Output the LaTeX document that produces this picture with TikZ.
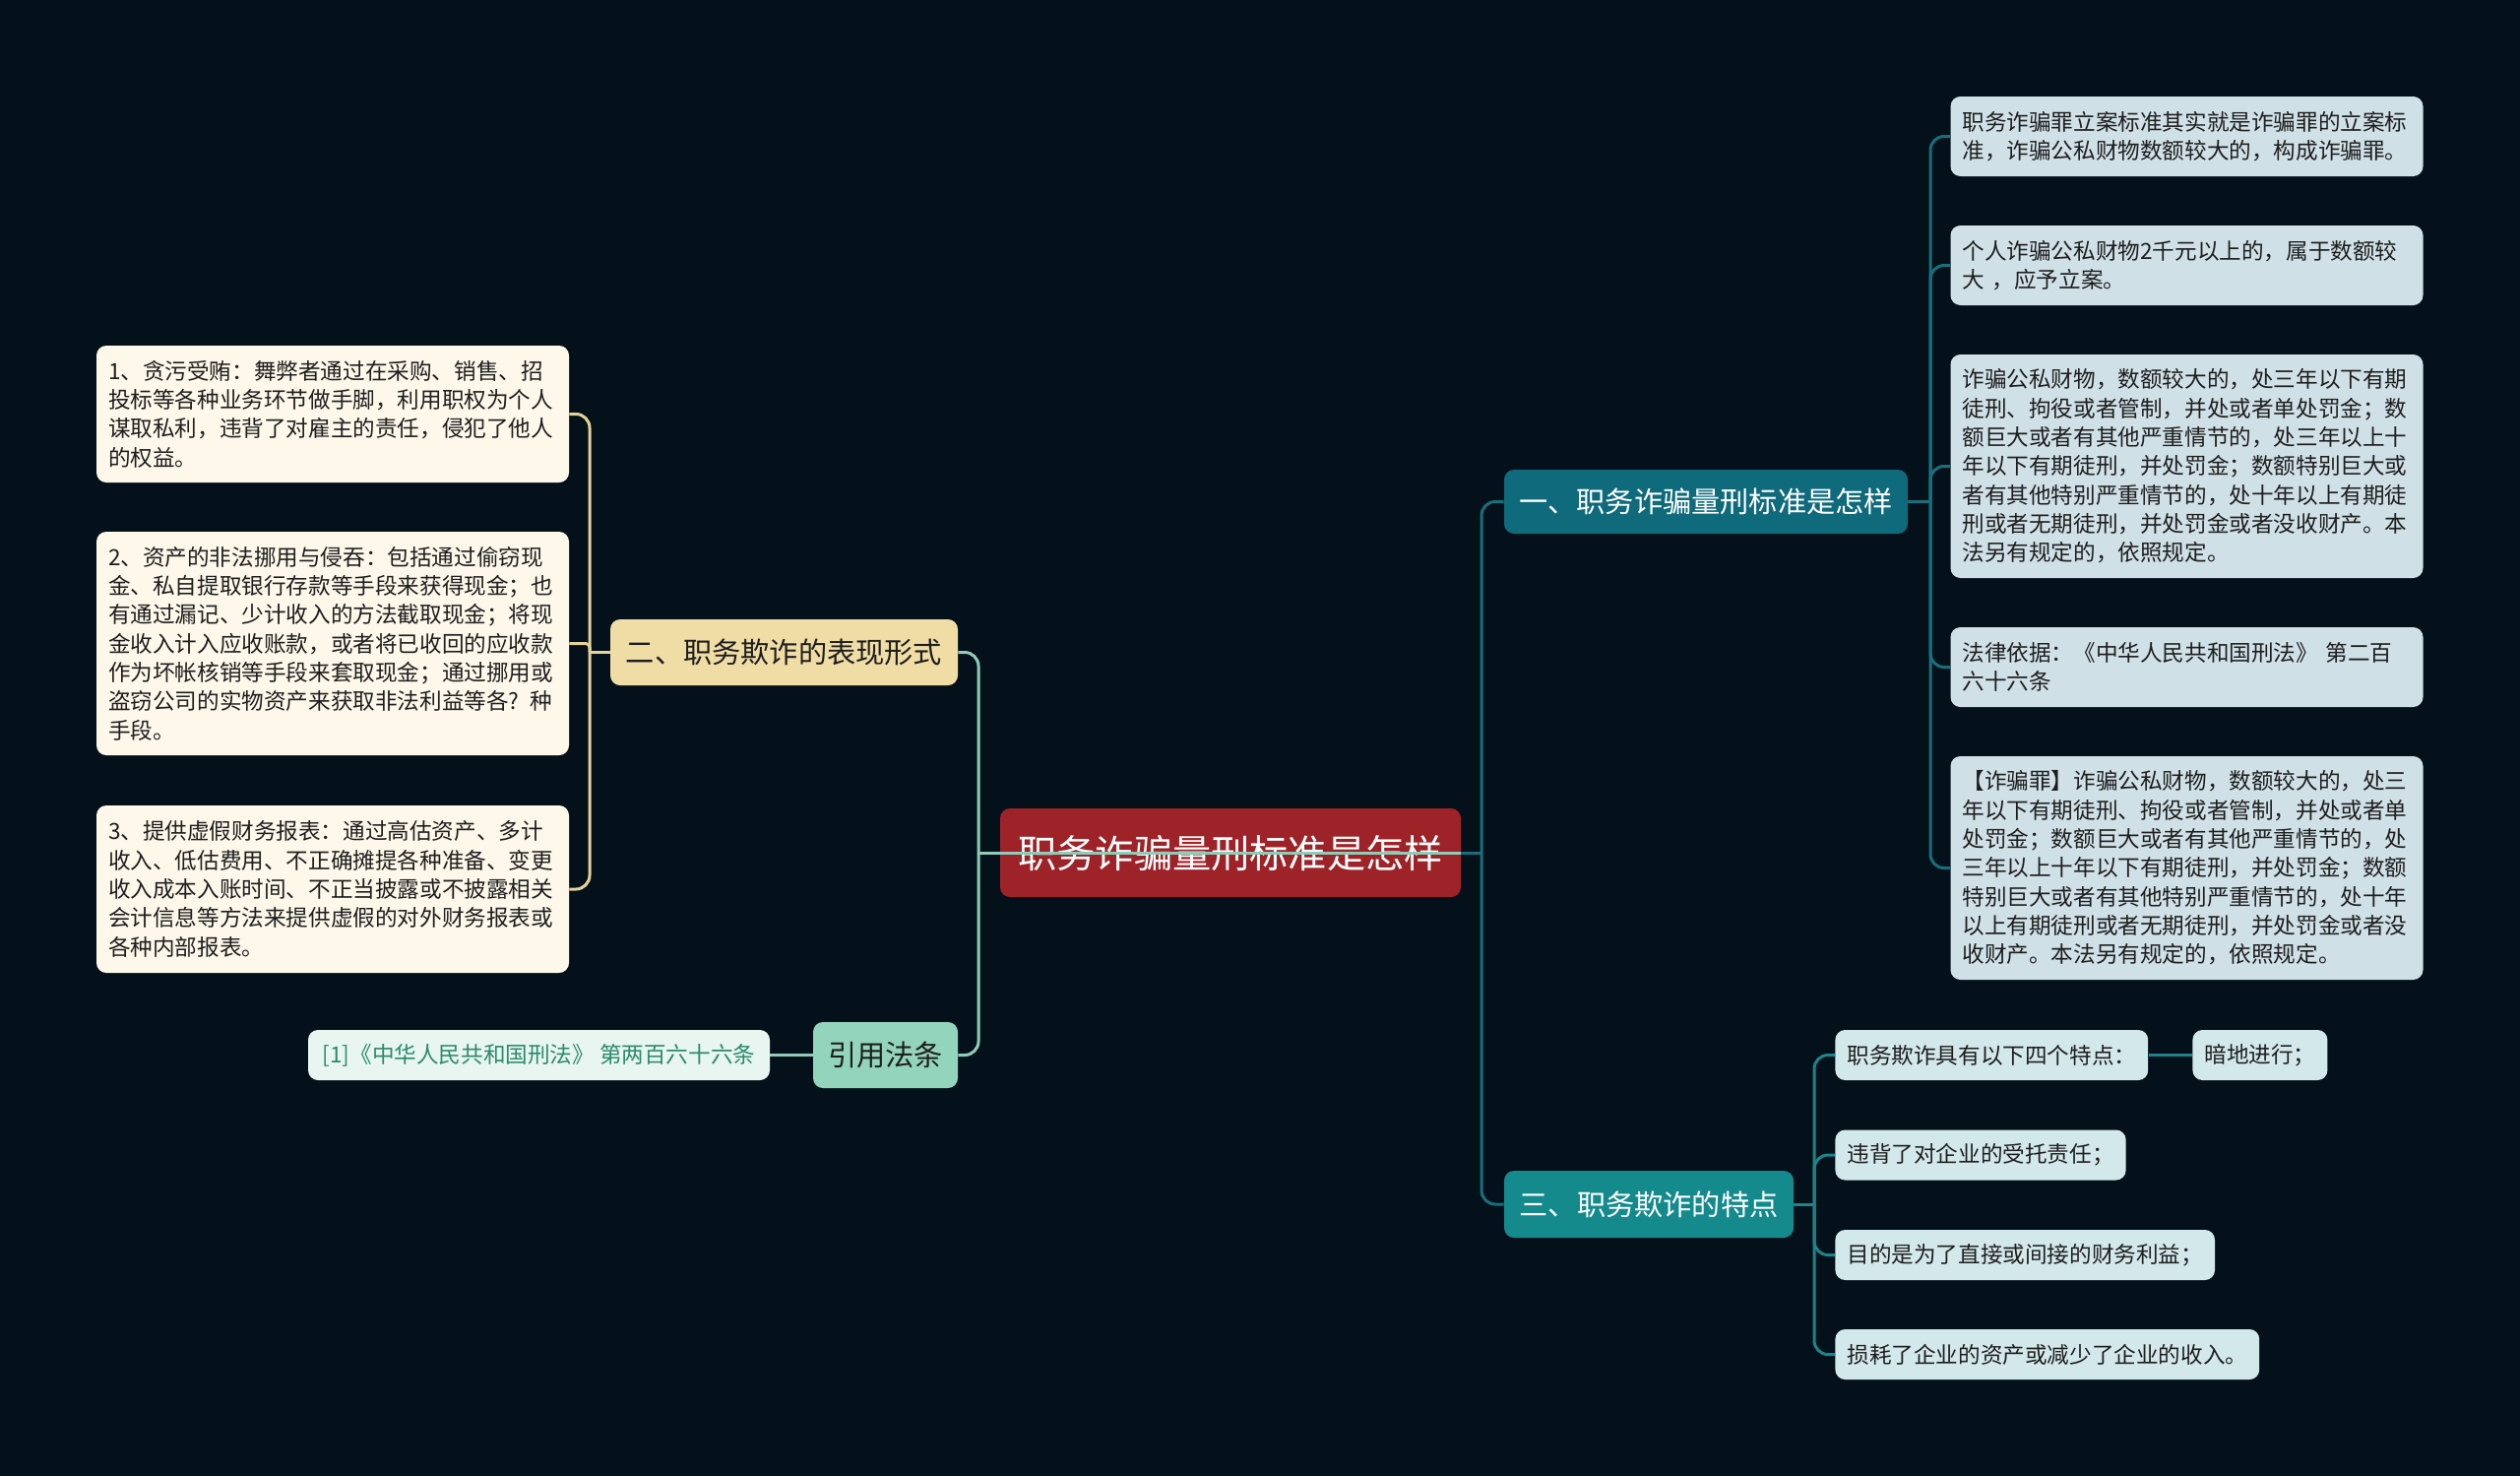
\documentclass[tikz,border=0pt]{standalone}
\usepackage{fontspec}
\newfontfamily\cjk{Noto Sans CJK SC}
\definecolor{bgc}{HTML}{04111A}
\definecolor{redc}{HTML}{9E2329}
\definecolor{teala}{HTML}{0F6A7C}
\definecolor{tealb}{HTML}{148A8C}
\definecolor{linea}{HTML}{176F7C}
\definecolor{lineb}{HTML}{1B8589}
\definecolor{beigec}{HTML}{F0DDA6}
\definecolor{beigeline}{HTML}{E5D29A}
\definecolor{creamc}{HTML}{FDF8EA}
\definecolor{mintc}{HTML}{93D4BC}
\definecolor{mintline}{HTML}{8CCDB8}
\definecolor{citefill}{HTML}{E8F5F0}
\definecolor{citetext}{HTML}{2B8A6C}
\definecolor{rleafc}{HTML}{CFE0E6}
\definecolor{sleafc}{HTML}{D3E8EA}
\definecolor{darktext}{HTML}{1E1E1E}
\tikzset{
  box/.style={rounded corners=5pt, inner sep=0pt, anchor=center},
  leaffont/.style={font={\cjk\fontsize{11.3pt}{14.65pt}\selectfont}},
  midfont/.style={font={\cjk\fontsize{14.6pt}{17pt}\selectfont}},
  bigleaf/.style={box, leaffont, text=darktext, align=left, text width=228pt, minimum width=240pt},
  rleaf/.style={bigleaf, fill=rleafc},
  lleaf/.style={bigleaf, fill=creamc},
  sleaf/.style={box, leaffont, fill=sleafc, text=darktext, anchor=west, inner xsep=6pt, minimum height=25.5pt},
  midnode/.style={box, midfont, align=center, minimum height=33pt},
  conn/.style={line width=1.5pt, rounded corners=7pt},
}
\begin{document}
\begin{tikzpicture}[x=0.5pt, y=-0.5pt]
\useasboundingbox (0,0) rectangle (2560,1499);
\fill[bgc] (0,0) rectangle (2560,1499);

% central node
\node[box, fill=redc, text=white, minimum width=234pt, minimum height=45pt,
      font={\cjk\fontsize{19.6pt}{22pt}\selectfont}] (c) at (1250,866) {职务诈骗量刑标准是怎样};

% level 1
\node[midnode, fill=teala, text=white, minimum width=205pt, minimum height=32.5pt] (n1) at (1733,509.5) {一、职务诈骗量刑标准是怎样};
\node[midnode, fill=tealb, text=white, minimum width=147pt, minimum height=34pt] (n3) at (1675,1223) {三、职务欺诈的特点};
\node[midnode, fill=beigec, text=darktext, minimum width=176.5pt, minimum height=33.5pt] (n2) at (796.5,662.5) {二、职务欺诈的表现形式};
\node[midnode, fill=mintc, text=darktext, minimum width=73.5pt, minimum height=33.5pt] (yin) at (899.5,1071.5) {引用法条};

% right leaves of 一
\node[rleaf, minimum height=40.5pt] (r1) at (2221.5,138.5) {职务诈骗罪立案标准其实就是诈骗罪的立案标\\准，诈骗公私财物数额较大的，构成诈骗罪。};
\node[rleaf, minimum height=40.5pt] (r2) at (2221.5,269.5) {个人诈骗公私财物2千元以上的，属于数额较\\大 ，应予立案。};
\node[rleaf, minimum height=113.5pt] (r3) at (2221.5,473.5) {诈骗公私财物，数额较大的，处三年以下有期\\徒刑、拘役或者管制，并处或者单处罚金；数\\额巨大或者有其他严重情节的，处三年以上十\\年以下有期徒刑，并处罚金；数额特别巨大或\\者有其他特别严重情节的，处十年以上有期徒\\刑或者无期徒刑，并处罚金或者没收财产。本\\法另有规定的，依照规定。};
\node[rleaf, minimum height=40.5pt] (r4) at (2221.5,677.5) {法律依据：《中华人民共和国刑法》 第二百\\六十六条};
\node[rleaf, minimum height=113.5pt] (r5) at (2221.5,881.5) {【诈骗罪】诈骗公私财物，数额较大的，处三\\年以下有期徒刑、拘役或者管制，并处或者单\\处罚金；数额巨大或者有其他严重情节的，处\\三年以上十年以下有期徒刑，并处罚金；数额\\特别巨大或者有其他特别严重情节的，处十年\\以上有期徒刑或者无期徒刑，并处罚金或者没\\收财产。本法另有规定的，依照规定。};

% leaves of 三
\node[sleaf] (s1) at (1864,1071.5) {职务欺诈具有以下四个特点：};
\node[sleaf] (s1b) at (2227,1071.5) {暗地进行；};
\node[sleaf] (s2) at (1864,1173) {违背了对企业的受托责任；};
\node[sleaf] (s3) at (1864,1274.5) {目的是为了直接或间接的财务利益；};
\node[sleaf] (s4) at (1864,1375.5) {损耗了企业的资产或减少了企业的收入。};

% left leaves of 二
\node[lleaf, minimum height=69.5pt] (l1) at (338,420.5) {1、贪污受贿：舞弊者通过在采购、销售、招\\投标等各种业务环节做手脚，利用职权为个人\\谋取私利，违背了对雇主的责任，侵犯了他人\\的权益。};
\node[lleaf, minimum height=113.5pt] (l2) at (338,653.5) {2、资产的非法挪用与侵吞：包括通过偷窃现\\金、私自提取银行存款等手段来获得现金；也\\有通过漏记、少计收入的方法截取现金；将现\\金收入计入应收账款，或者将已收回的应收款\\作为坏帐核销等手段来套取现金；通过挪用或\\盗窃公司的实物资产来获取非法利益等各? 种\\手段。};
\node[lleaf, minimum height=85pt] (l3) at (338,903) {3、提供虚假财务报表：通过高估资产、多计\\收入、低估费用、不正确摊提各种准备、变更\\收入成本入账时间、不正当披露或不披露相关\\会计信息等方法来提供虚假的对外财务报表或\\各种内部报表。};

% citation leaf
\node[box, leaffont, fill=citefill, text=citetext, minimum width=234.5pt, minimum height=25.5pt] (cite) at (547.5,1071.5) {[1]《中华人民共和国刑法》 第两百六十六条};

% junction coordinates
\coordinate (jR) at (1505,866);
\coordinate (jL) at (994,866);
\coordinate (j1) at (1961,509.5);
\coordinate (j3) at (1843,1223);
\coordinate (j2) at (599,662.5);

% connectors: center to right
\draw[conn, linea] (c.east) -- (jR);
\draw[conn, linea] (jR) |- (n1.west);
\draw[conn, linea] (jR) |- (n3.west);
% center to left (line crosses the central node)
\draw[conn, mintline] (c.east) -- (jL);
\draw[conn, mintline] (jL) |- (n2.east);
\draw[conn, mintline] (jL) |- (yin.east);
\draw[conn, mintline] (yin.west) -- (cite.east);

% 一 branch
\draw[conn, linea] (n1.east) -- (j1);
\foreach \n in {r1,r2,r3,r4,r5} \draw[conn, linea] (j1) |- (\n.west);

% 三 branch
\draw[conn, lineb] (n3.east) -- (j3);
\foreach \n in {s1,s2,s3,s4} \draw[conn, lineb] (j3) |- (\n.west);
\draw[conn, lineb] (s1.east) -- (s1b.west);

% 二 branch
\draw[conn, beigeline] (n2.west) -- (j2);
\draw[conn, beigeline] (j2) |- (l1.east);
\draw[conn, beigeline, rounded corners=2pt] (j2) |- (l2.east);
\draw[conn, beigeline] (j2) |- (l3.east);
\end{tikzpicture}
\end{document}
